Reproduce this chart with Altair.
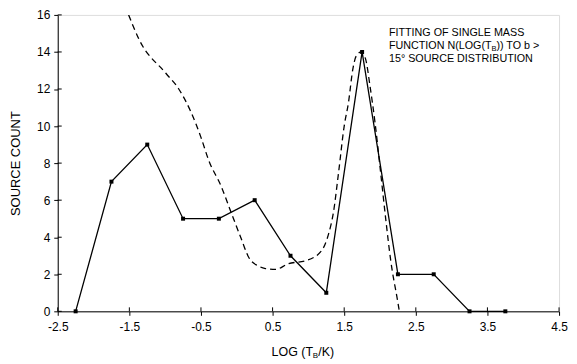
import altair as alt
import pandas as pd

# Observed histogram (solid line with square markers)
obs_x = [-2.25, -1.75, -1.25, -0.75, -0.25, 0.25, 0.75, 1.25, 1.75, 2.25, 2.75, 3.25, 3.75]
obs_y = [0, 7, 9, 5, 5, 6, 3, 1, 14, 2, 2, 0, 0]

# Fitted single mass function (dashed curve)
fit_x = [-1.51, -1.36, -0.99, -0.81, -0.64, -0.50, -0.39, -0.22, -0.08, 0.06, 0.17, 0.30,
         0.40, 0.54, 0.72, 0.96, 1.18, 1.28, 1.35, 1.42, 1.50, 1.56, 1.62, 1.67, 1.74,
         1.80, 1.86, 1.93, 2.00, 2.08, 2.15, 2.25, 2.27]
fit_y = [16.0, 14.64, 12.85, 12.0, 10.76, 9.39, 8.13, 6.77, 5.35, 3.94, 2.89, 2.45,
         2.31, 2.26, 2.57, 2.73, 3.25, 4.15, 5.35, 7.45, 10.0, 11.28, 13.06, 13.8, 14.0,
         13.6, 12.17, 10.2, 7.8, 4.98, 2.73, 0.47, 0.0]

x_ticks = [-2.5, -1.5, -0.5, 0.5, 1.5, 2.5, 3.5, 4.5]
y_ticks = [0, 2, 4, 6, 8, 10, 12, 14, 16]

note_lines = ["FITTING OF SINGLE MASS", "FUNCTION N(LOG(T", "B", ")) TO b >", "15° SOURCE DISTRIBUTION"]
xtitle_parts = ["LOG (T", "B", "/K)"]
ytitle = "SOURCE COUNT"

FONT = "Liberation Sans"
W, H = 504, 298

obs = pd.DataFrame({"x": obs_x, "y": obs_y})
fit = pd.DataFrame({"x": fit_x, "y": fit_y})

xs = alt.Scale(domain=[-2.5, 4.5], nice=False, zero=False)
ys = alt.Scale(domain=[0, 16], nice=False)

xaxis = alt.Axis(values=x_ticks, format=".1f", title=None, tickSize=4, labelPadding=6,
                 labelFontSize=12, labelFont=FONT, labelColor="black", tickColor="black",
                 domainColor="black", grid=False, labelOverlap=False, labelFlush=False,
                 labelExpr="replace(datum.label, '\u2212', '-')")
yaxis = alt.Axis(values=y_ticks, title=ytitle, tickSize=4, labelPadding=4,
                 labelFontSize=12, labelFont=FONT, labelColor="black", tickColor="black",
                 domainColor="black", grid=False, titleFont=FONT, titleFontSize=13,
                 titleFontWeight="normal", titleColor="black", titleX=-42, titleY=H / 2,
                 titleAngle=270, titleAlign="center", titleBaseline="middle",
                 labelOverlap=False, labelFlush=False)

fit_line = alt.Chart(fit).mark_line(color="black", strokeDash=[6, 4], strokeWidth=1.3,
                                    interpolate="monotone", clip=True).encode(
    x=alt.X("x:Q", scale=xs, axis=xaxis),
    y=alt.Y("y:Q", scale=ys, axis=yaxis),
)

obs_line = alt.Chart(obs).mark_line(color="black", strokeWidth=1.3,
                                    point=alt.OverlayMarkDef(shape="square", size=16,
                                                             filled=True, color="black")).encode(
    x=alt.X("x:Q", scale=xs, axis=xaxis),
    y=alt.Y("y:Q", scale=ys, axis=yaxis),
)

# inward halves of the crossing tick marks
ytick_in = alt.Chart(pd.DataFrame({"v": y_ticks})).mark_rule(color="black", strokeWidth=1).encode(
    y=alt.Y("v:Q", scale=ys, axis=yaxis), x=alt.value(0), x2=alt.value(4))
xtick_in = alt.Chart(pd.DataFrame({"v": x_ticks})).mark_rule(color="black", strokeWidth=1).encode(
    x=alt.X("v:Q", scale=xs, axis=xaxis), y=alt.value(H), y2=alt.value(H - 4))

def txt(s, x, y, size, baseline="middle"):
    return alt.Chart(pd.DataFrame({"t": [s]})).mark_text(
        align="left", baseline=baseline, font=FONT, fontSize=size, color="black"
    ).encode(text="t:N", x=alt.value(x), y=alt.value(y))

note = (
    txt(note_lines[0], 333, 18, 10.8)
    + txt(note_lines[1], 333, 31, 10.8)
    + txt(note_lines[2], 436, 34, 7.5)
    + txt(note_lines[3], 441, 31, 10.8)
    + txt(note_lines[4], 333, 44, 10.8)
)

xtitle = (
    txt(xtitle_parts[0], 215, 339, 12.5)
    + txt(xtitle_parts[1], 256.5, 343, 8)
    + txt(xtitle_parts[2], 262, 339, 12.5)
)

chart = alt.layer(fit_line, obs_line, ytick_in, xtick_in, note, xtitle).properties(
    width=W, height=H,
    autosize=alt.AutoSizeParams(type="none"),
    padding={"left": 50, "top": 6, "right": 10, "bottom": 50},
).configure_view(stroke="black", strokeWidth=1.2).configure(background="white")

chart.save("out.html", embed_options={"renderer": "svg", "actions": False})
